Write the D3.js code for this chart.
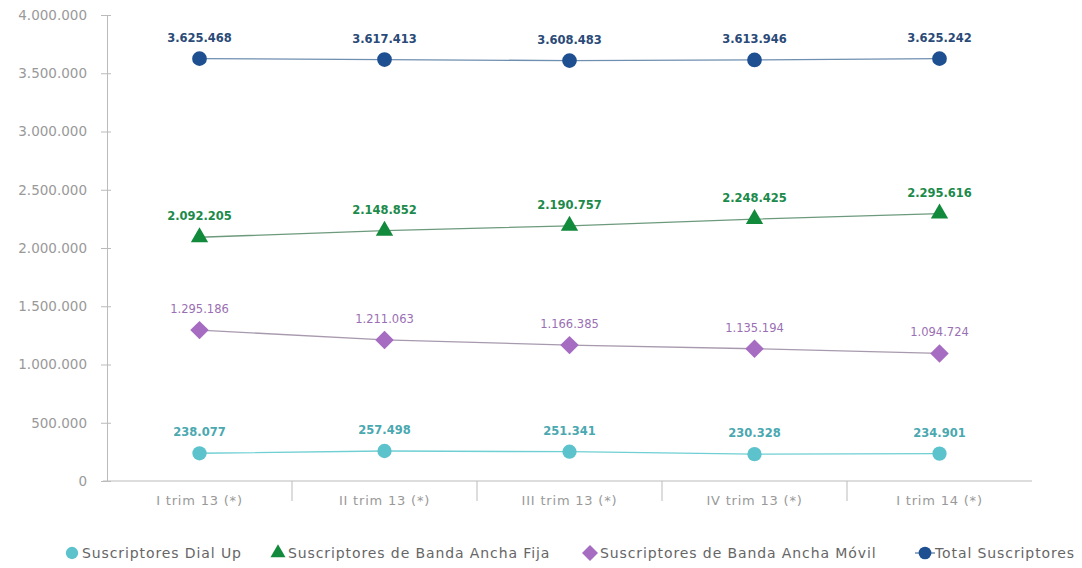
<!DOCTYPE html>
<html>
<head>
<meta charset="utf-8">
<script src="https://cdn.jsdelivr.net/npm/d3@7"></script>
<style>
  body { margin: 0; background: #fff; }
  text { font-family: "DejaVu Sans", sans-serif; }
</style>
</head>
<body>
<div id="wrapper"></div>
<script>
const categories = ["I trim 13 (*)", "II trim 13 (*)", "III trim 13 (*)", "IV trim 13 (*)", "I trim 14 (*)"];
const dialUp = [238077, 257498, 251341, 230328, 234901];
const fija = [2092205, 2148852, 2190757, 2248425, 2295616];
const movil = [1295186, 1211063, 1166385, 1135194, 1094724];
const total = [3625468, 3617413, 3608483, 3613946, 3625242];
const yTicks = [0, 500000, 1000000, 1500000, 2000000, 2500000, 3000000, 3500000, 4000000];
const seriesNames = ["Suscriptores Dial Up", "Suscriptores de Banda Ancha Fija", "Suscriptores de Banda Ancha Móvil", "Total Suscriptores"];

const fmt = v => d3.format(",")(v).replace(/,/g, ".");

const dimension = { width: 1082, height: 568, margin: { top: 15, right: 50, bottom: 87, left: 107 } };
dimension.boundedWidth = dimension.width - dimension.margin.left - dimension.margin.right;
dimension.boundedHeight = dimension.height - dimension.margin.top - dimension.margin.bottom;

const svg = d3.select("#wrapper").append("svg")
    .attr("width", dimension.width)
    .attr("height", dimension.height);

const bounds = svg.append("g")
    .attr("transform", `translate(${dimension.margin.left},${dimension.margin.top})`);

const x = d3.scaleBand().domain(categories).range([0, 925]);
const y = d3.scaleLinear().domain([0, 4000000]).range([dimension.boundedHeight, 0]);

// y axis
const yAxis = bounds.append("g")
    .call(d3.axisLeft(y).tickValues(yTicks).tickFormat(fmt).tickSize(6).tickPadding(14));
yAxis.select(".domain").attr("stroke", "#bbb");
yAxis.selectAll(".tick line").attr("stroke", "#bbb").attr("x2", 4).attr("x1", -6);
yAxis.selectAll("text").attr("fill", "#999").style("font-size", "13.5px");

// x axis
const xAxis = bounds.append("g")
    .attr("transform", `translate(0,${dimension.boundedHeight})`)
    .call(d3.axisBottom(x).tickSize(0).tickPadding(15));
xAxis.select(".domain").attr("stroke", "#bbb").attr("d", `M-4,0H${x.range()[1]}`);
xAxis.selectAll("text").attr("fill", "#999").style("font-size", "13px").style("letter-spacing", "0.8px");
xAxis.selectAll(".sep")
    .data(categories.slice(1))
    .enter().append("line")
    .attr("class", "sep")
    .attr("x1", d => x(d)).attr("x2", d => x(d))
    .attr("y1", 0).attr("y2", 20)
    .attr("stroke", "#bbb");

const diamond = {
    draw(ctx, size) {
        const r = Math.sqrt(size / 2);
        ctx.moveTo(0, -r); ctx.lineTo(r, 0); ctx.lineTo(0, r); ctx.lineTo(-r, 0); ctx.closePath();
    }
};

const series = [
    { name: seriesNames[0], values: dialUp, line: "#6fcfd3", fill: "#5cc3cc", label: "#4aa8b0", weight: "bold", shape: d3.symbolCircle, size: 160 },
    { name: seriesNames[1], values: fija, line: "#6d9a7d", fill: "#128a3c", label: "#1b8a4a", weight: "bold", shape: d3.symbolTriangle, size: 130 },
    { name: seriesNames[2], values: movil, line: "#a89aae", fill: "#a66cc2", label: "#9a6fb3", weight: "normal", shape: diamond, size: 170 },
    { name: seriesNames[3], values: total, line: "#6f8fb0", fill: "#1d4f91", label: "#2a4a78", weight: "bold", shape: d3.symbolCircle, size: 170 }
];

const line = d3.line()
    .x((d, i) => x(categories[i]) + x.bandwidth() / 2)
    .y(d => y(d));

series.forEach(s => {
    const g = bounds.append("g");
    g.append("path")
        .datum(s.values)
        .attr("d", line)
        .attr("fill", "none")
        .attr("stroke", s.line)
        .attr("stroke-width", 1.3);
    g.selectAll("path.mark")
        .data(s.values)
        .enter().append("path")
        .attr("class", "mark")
        .attr("d", d3.symbol().type(s.shape).size(s.size))
        .attr("transform", (d, i) => `translate(${x(categories[i]) + x.bandwidth() / 2},${y(d)})`)
        .attr("fill", s.fill);
    g.selectAll("text")
        .data(s.values)
        .enter().append("text")
        .attr("x", (d, i) => x(categories[i]) + x.bandwidth() / 2)
        .attr("y", d => y(d) - 17)
        .attr("text-anchor", "middle")
        .attr("fill", s.label)
        .style("font-size", "11.5px")
        .style("font-weight", s.weight)
        .text(d => fmt(d));
});

// legend
const legendX = [72, 278, 590, 925];
const legend = svg.append("g").attr("transform", "translate(0,553)");
series.forEach((s, i) => {
    const item = legend.append("g").attr("transform", `translate(${legendX[i]},0)`);
    if (i === 3) {
        item.append("line").attr("x1", -10).attr("x2", 10).attr("stroke", s.line).attr("stroke-width", 1.5);
    }
    item.append("path")
        .attr("d", d3.symbol().type(s.shape).size(s.size * 0.75))
        .attr("fill", s.fill);
    item.append("text")
        .attr("x", 10)
        .attr("y", 5)
        .attr("fill", "#666")
        .style("font-size", "14px")
        .style("letter-spacing", "0.9px")
        .text(s.name);
});
</script>
</body>
</html>
